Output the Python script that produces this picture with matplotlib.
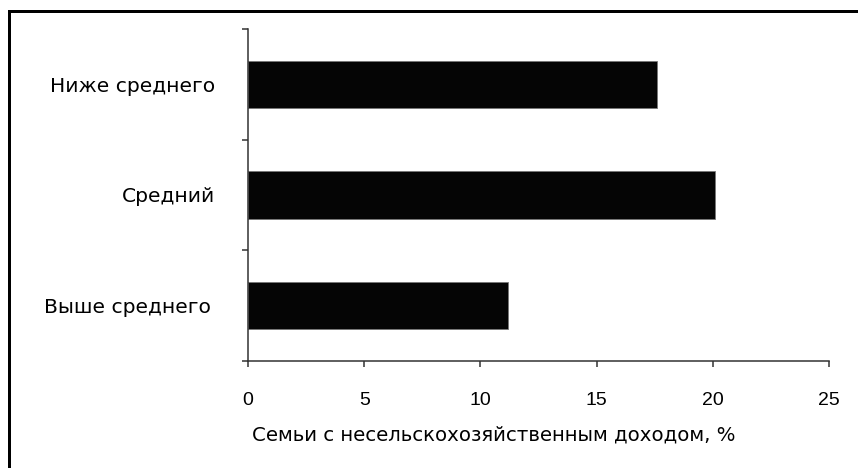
import matplotlib
matplotlib.use("Agg")
import matplotlib.pyplot as plt
from matplotlib.patches import Rectangle

categories = ["Выше среднего", "Средний", "Ниже среднего"]
values = [11.2, 20.1, 17.6]
xticks = [0, 5, 10, 15, 20, 25]
xlabel = "Семьи с несельскохозяйственным доходом, %"

W, H = 858, 468
fig = plt.figure(figsize=(W / 100, H / 100), dpi=100)
fig.patch.set_facecolor("white")
ax = fig.add_axes([248 / W, (H - 361) / H, (829 - 248) / W, (361 - 29) / H])

pos = list(range(len(categories)))
ax.barh(pos, values, height=0.43, color="#050505", edgecolor="#777777", linewidth=0.6)

ax.set_xlim(0, 25)
ax.set_ylim(-0.5, len(categories) - 0.5)
ax.set_xticks(xticks)
ax.set_xticklabels([str(t) for t in xticks], family="Liberation Sans", fontsize=14)
ax.set_yticks(pos)
ax.set_yticklabels(categories, family="DejaVu Sans", fontsize=14.6)
ax.set_yticks([p - 0.5 for p in pos] + [len(categories) - 0.5], minor=True)

for s in ["top", "right"]:
    ax.spines[s].set_visible(False)
for s in ["left", "bottom"]:
    ax.spines[s].set_color("#333333")
    ax.spines[s].set_linewidth(1.1)

ax.tick_params(axis="x", direction="out", length=4.5, width=1.1, color="#333333", pad=17.5)
ax.tick_params(axis="y", which="major", length=0, pad=23.5)
ax.tick_params(axis="y", which="minor", direction="out", length=4.5, width=1.1, color="#333333")

# the lowest label sits slightly further left in the reference
ax.yaxis.get_major_ticks()[0].set_pad(27)

ax.set_xlabel(xlabel, family="DejaVu Sans", fontsize=14.2)
ax.xaxis.set_label_coords((493.5 - 248) / (829 - 248), (361 - 435) / (361 - 29))
ax.xaxis.label.set_va("center")

# figure frame (top and left edges visible, others run off the image)
lw = 3 * 72 / 100
fig.add_artist(Rectangle((8.5 / W, -0.1), 2.0, (H - 10.5) / H + 0.1, transform=fig.transFigure,
                         fill=False, edgecolor="black", lw=lw, joinstyle="miter"))

fig.savefig("out.png", dpi=100, facecolor="white")
